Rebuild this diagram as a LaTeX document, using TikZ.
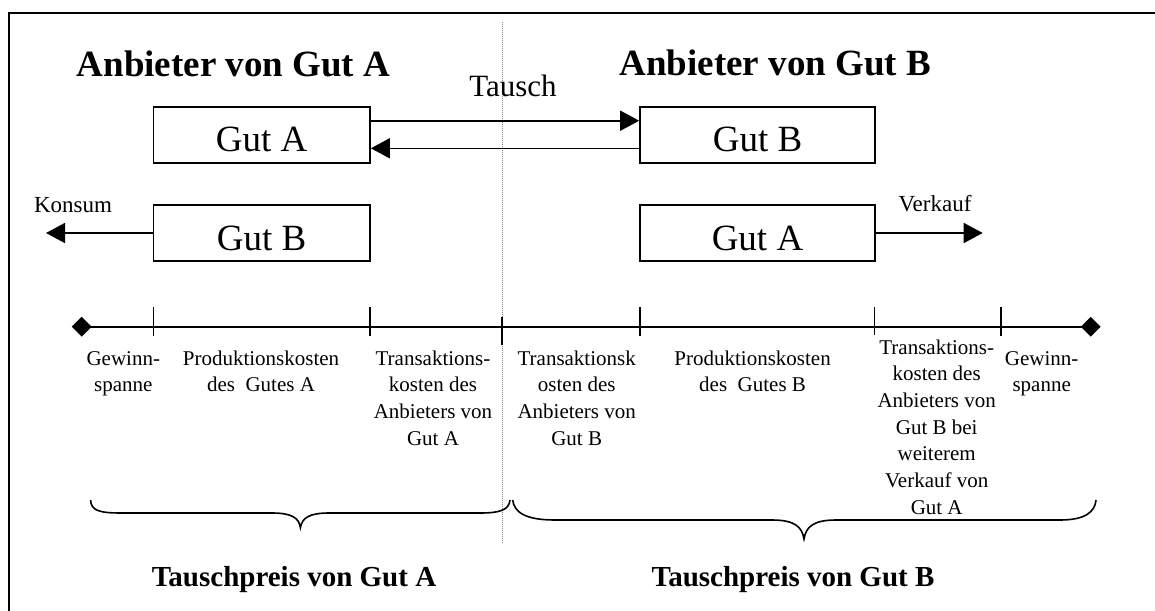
\documentclass[tikz,border=0pt]{standalone}
\usepackage{fontspec}
\setmainfont{Liberation Serif}
\usetikzlibrary{arrows.meta,shapes.geometric}
\tikzset{
  gutbox/.style={draw,line width=1.6pt,minimum width=#1,inner xsep=0pt,inner ysep=0pt,
    text height=45pt,text depth=11pt,font=\fontsize{37}{44}\selectfont},
  arr/.style={line width=1.6pt,-{Triangle[length=19pt,width=20pt]}},
  lbl/.style={anchor=base,inner sep=0pt,align=center,font=\fontsize{21}{26.7}\selectfont},
  ttl/.style={anchor=base,inner sep=0pt,font=\fontsize{37}{44}\selectfont\bfseries},
  sml/.style={anchor=base,inner sep=0pt,font=\fontsize{23}{28}\selectfont},
  price/.style={anchor=base,inner sep=0pt,font=\fontsize{29}{34}\selectfont\bfseries},
  tick/.style={line width=1.6pt},
  brace/.style={line width=1.6pt},
  dia/.style={diamond,fill=black,inner sep=0pt,minimum width=20pt,minimum height=20pt}
}
\begin{document}
\begin{tikzpicture}[x=1pt,y=-1pt]
\useasboundingbox (0,0) rectangle (1155,610);
% frame
\coordinate (fbl) at (8.9,612);
\coordinate (ftl) at (8.9,13.3);
\coordinate (ftr) at (1157,13.3);
\draw[line width=1.8pt] (fbl) -- (ftl) -- (ftr);
% dotted divider
\coordinate (dtop) at (502,21.7);
\coordinate (dbot) at (502,543);
\draw[line width=0.6pt,gray,dash pattern=on 1pt off 1pt] (dtop) -- (dbot);
% titles
\node[ttl] (titA) at (233.5,76.7) {Anbieter von Gut A};
\node[ttl] (titB) at (775.3,75) {Anbieter von Gut B};
\node[anchor=base,inner sep=0pt,font=\fontsize{31}{36}\selectfont] (tausch) at (513,96) {Tausch};
% boxes
\node[gutbox=216.7pt] (a1) at (261.7,134.7) {Gut A};
\node[gutbox=235pt] (b1) at (757.5,134.7) {Gut B};
\node[gutbox=216.7pt] (b2) at (261.7,233) {Gut B};
\node[gutbox=235pt] (a2) at (757.5,233) {Gut A};
% exchange arrows
\draw[arr] ([yshift=14pt]a1.east) -- ([yshift=14pt]b1.west);
\draw[arr] ([yshift=-13.6pt]b1.west) -- ([yshift=-13.6pt]a1.east);
% Konsum / Verkauf
\coordinate (kend) at (46,233);
\coordinate (vend) at (982.7,233);
\draw[arr] (b2.west) -- (kend);
\draw[arr] (a2.east) -- (vend);
\node[sml] (konsum) at (73,212.7) {Konsum};
\node[sml] (verkauf) at (935,211.7) {Verkauf};
% axis
\node[dia] (dl) at (81.7,326.7) {};
\node[dia] (dr) at (1090.7,326.7) {};
\draw[line width=1.6pt] (dl.center) -- (dr.center);
\coordinate (t1a) at (153.3,307); \coordinate (t1b) at (153.3,336);
\coordinate (t2a) at (370,307);   \coordinate (t2b) at (370,336);
\coordinate (t3a) at (502,316.7); \coordinate (t3b) at (502,345);
\coordinate (t4a) at (640,307);   \coordinate (t4b) at (640,336);
\coordinate (t5a) at (874.3,307); \coordinate (t5b) at (874.3,335);
\coordinate (t6a) at (1000.7,307);\coordinate (t6b) at (1000.7,336);
\draw[tick] (t1a) -- (t1b);
\draw[tick] (t2a) -- (t2b);
\draw[tick] (t3a) -- (t3b);
\draw[tick] (t4a) -- (t4b);
\draw[tick] (t5a) -- (t5b);
\draw[tick] (t6a) -- (t6b);
% labels (anchor = baseline of last line)
\node[lbl] (g1) at (123.3,391.7) {Gewinn-\\spanne};
\node[lbl] (p1) at (261,391.7) {Produktionskosten\\des\ \ Gutes A};
\node[lbl] (tk1) at (433,445.1) {Transaktions-\\kosten des\\Anbieters von\\Gut A};
\node[lbl] (tk2) at (576.7,445.1) {Transaktionsk\\osten des\\Anbieters von\\Gut B};
\node[lbl] (p2) at (752.6,391.7) {Produktionskosten\\des\ \ Gutes B};
\node[lbl] (tk3) at (936.7,514.2) {Transaktions-\\kosten des\\Anbieters von\\Gut B bei\\weiterem\\Verkauf von\\Gut A};
\node[lbl] (g2) at (1041.7,391.7) {Gewinn-\\spanne};
% braces
\draw[brace] (90.6,500) .. controls (91,511) and (100,513) .. (122,513) -- (272,513)
  .. controls (292,513) and (299,518) .. (300.4,527.7)
  .. controls (302,518) and (309,513) .. (329,513) -- (480,513)
  .. controls (500,513) and (509,510) .. (510,500);
\draw[brace] (512.7,500) .. controls (514,512) and (525,520) .. (555,520) -- (772,520)
  .. controls (795,520) and (802,527) .. (804,539)
  .. controls (806,527) and (813,520) .. (836,520) -- (1060,520)
  .. controls (1085,520) and (1095,512) .. (1096,500);
% prices
\node[price] (pA) at (294,586) {Tauschpreis von Gut A};
\node[price] (pB) at (793,586) {Tauschpreis von Gut B};
\end{tikzpicture}
\end{document}
